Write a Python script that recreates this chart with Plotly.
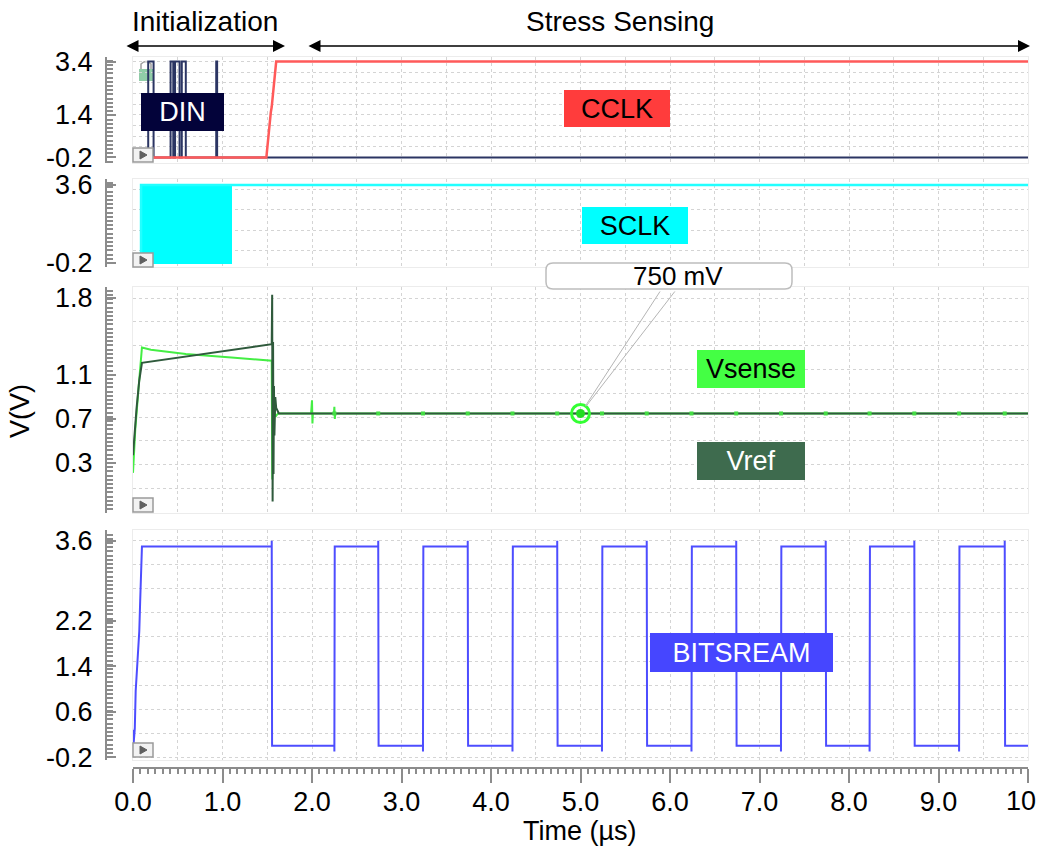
import plotly.graph_objects as go

W, H = 1041, 850
FONT = "Liberation Sans, Arial, sans-serif"


def fx(p):
    return p / W


def fy(p):
    return 1 - p / H


# ---------------- signal data (time in µs, level in V) ----------------
# DIN programming pulses during initialization
din_pulse_start = [0.17, 0.42, 0.47, 0.545, 0.93]
din_pulse_end = [0.23, 0.45, 0.52, 0.59, 0.94]
din_low, din_high = -0.2, 3.4

# CCLK enable edge
cclk_t = [0.0, 1.49, 1.54, 1.55, 1.60, 10.0]
cclk_v = [-0.2, -0.2, 1.5, 1.7, 3.4, 3.4]

# SCLK: fast burst during initialization, then held high
sclk_t = [0.0, 0.09, 0.09, 1.095, 10.0]
sclk_v = [-0.2, -0.2, 3.6, 3.6, 3.6]
sclk_burst_start, sclk_burst_end = 0.09, 1.095
sclk_low, sclk_high = -0.2, 3.6

# Vsense / Vref
vsense_t = [0.0, 0.01, 0.025, 0.06, 0.10, 0.20, 0.59, 1.10, 1.40, 1.55,
            1.556, 1.562, 1.568, 1.575, 1.59, 1.62, 1.99, 2.0, 2.005, 2.01,
            2.245, 2.25, 2.255, 2.26, 10.0]
vsense_v = [0.21, 0.36, 0.60, 0.96, 1.35, 1.33, 1.29, 1.26, 1.24, 1.23,
            0.15, 1.00, 0.55, 0.85, 0.72, 0.75, 0.75, 0.87, 0.66, 0.75,
            0.75, 0.81, 0.70, 0.75, 0.75]
vref_t = [0.0, 0.02, 0.04, 0.07, 0.10, 1.55, 1.555, 1.56, 1.565, 1.57,
          1.575, 1.58, 1.59, 1.60, 1.63, 10.0]
vref_v = [0.37, 0.60, 0.80, 1.05, 1.21, 1.38, 1.83, -0.05, 1.40, 0.20,
          1.00, 0.55, 0.90, 0.80, 0.75, 0.75]
# comparator kick-back points on Vsense at each bitstream edge
vsense_kick_t = [2.25, 2.74, 3.24, 3.74, 4.24, 4.74, 5.24, 5.74, 6.24, 6.74,
                 7.24, 7.74, 8.23, 8.73, 9.23, 9.74]
vsense_kick_v = [0.75] * len(vsense_kick_t)
marker_t, marker_v = 5.0, 0.75

# BITSTREAM
bit_ramp_t = [0.0, 0.003, 0.006, 0.02, 0.03, 0.05, 0.07, 0.08, 0.09, 0.10]
bit_ramp_v = [0.0, 0.28, 0.02, 0.30, 0.96, 1.48, 2.01, 2.53, 3.03, 3.50]
bit_fall = [1.55, 2.74, 3.74, 4.74, 5.74, 6.74, 7.74, 8.73, 9.74]
bit_rise = [2.25, 3.24, 4.24, 5.24, 6.24, 7.24, 8.23, 9.23]
bit_high, bit_low = 3.50, 0.0
bit_overshoot = 0.1
t_end = 10.0

# time-axis labels (the last one is set slightly inside the right edge)
time_ticks = [0, 1, 2, 3, 4, 5, 6, 7, 8, 9, 10]
time_labels = ["0.0", "1.0", "2.0", "3.0", "4.0", "5.0", "6.0", "7.0", "8.0", "9.0", ""]
last_time_label = "10"

# ---------------- build step waveforms ----------------
din_x, din_y = [0.0], [din_low]
for s, e in zip(din_pulse_start, din_pulse_end):
    din_x += [s, s, e, e]
    din_y += [din_low, din_high, din_high, din_low]
din_x.append(t_end)
din_y.append(din_low)

bit_x, bit_y = list(bit_ramp_t), list(bit_ramp_v)
edges = sorted([(t, "fall") for t in bit_fall] + [(t, "rise") for t in bit_rise])
for t, kind in edges:
    if kind == "fall":
        bit_x += [t, t, t + 0.004]
        bit_y += [bit_high, bit_high + bit_overshoot, bit_low]
    else:
        bit_x += [t, t, t + 0.004]
        bit_y += [bit_low, bit_low - bit_overshoot, bit_high]
bit_x.append(t_end)
bit_y.append(bit_low)

fig = go.Figure()

# panel 1: DIN / CCLK
fig.add_trace(go.Scatter(x=din_x, y=din_y, mode="lines", name="DIN",
                         line=dict(color="#2b3563", width=2), xaxis="x", yaxis="y"))
fig.add_trace(go.Scatter(x=cclk_t, y=cclk_v, mode="lines", name="CCLK",
                         line=dict(color="#ff5a5a", width=2.5), xaxis="x", yaxis="y"))

# panel 2: SCLK
fig.add_trace(go.Scatter(
    x=[sclk_burst_start, sclk_burst_start, sclk_burst_end, sclk_burst_end, sclk_burst_start],
    y=[sclk_low, sclk_high, sclk_high, sclk_low, sclk_low],
    mode="lines", fill="toself", fillcolor="#00ffff",
    line=dict(color="#00ffff", width=2), name="SCLK burst", xaxis="x2", yaxis="y2"))
fig.add_trace(go.Scatter(x=sclk_t, y=sclk_v, mode="lines", name="SCLK",
                         line=dict(color="#22ffff", width=2.5), xaxis="x2", yaxis="y2"))

# panel 3: Vsense / Vref
fig.add_trace(go.Scatter(x=vsense_t, y=vsense_v, mode="lines", name="Vsense",
                         line=dict(color="#44ee44", width=2), xaxis="x3", yaxis="y3"))
fig.add_trace(go.Scatter(x=vref_t, y=vref_v, mode="lines", name="Vref",
                         line=dict(color="#2f5a3c", width=2), xaxis="x3", yaxis="y3"))
fig.add_trace(go.Scatter(x=vsense_kick_t, y=vsense_kick_v, mode="markers", name="Vsense kick",
                         marker=dict(color="#44dd44", size=4, symbol="square"),
                         xaxis="x3", yaxis="y3"))
fig.add_trace(go.Scatter(x=[marker_t], y=[marker_v], mode="markers", name="cursor",
                         marker=dict(color="rgba(0,0,0,0)", size=18,
                                     line=dict(color="#33ff33", width=3)),
                         xaxis="x3", yaxis="y3"))
fig.add_trace(go.Scatter(x=[marker_t], y=[marker_v], mode="markers", name="cursor dot",
                         marker=dict(color="#22dd22", size=9), xaxis="x3", yaxis="y3"))

# panel 4: bitstream
fig.add_trace(go.Scatter(x=bit_x, y=bit_y, mode="lines", name="BITSTREAM",
                         line=dict(color="#4d4dff", width=2), xaxis="x4", yaxis="y4"))

# ---------------- axes ----------------
x_dom = [fx(133), fx(1028)]
panels = [  # (top px, bottom px, range, grid tick0, grid step)
    (57, 163, [-0.41, 3.57], -0.2, 0.4),
    (179, 267, [-0.40, 3.89], 0.4, 1.0),
    (287, 513, [-0.155, 1.90], 1.8, 0.2167),
    (530, 760, [-0.25, 3.79], -0.2, 3.8 / 9),
]
ruler_ticks = [
    [-0.2, 1.4, 3.4],
    [-0.2, 3.6],
    [0.3, 0.7, 1.1, 1.8],
    [-0.2, 0.6, 1.4, 2.2, 3.6],
]
GRID = "#d4d4d4"
RULER = "#8c8c8c"

layout = dict(
    width=W, height=H, autosize=False,
    margin=dict(l=0, r=0, t=0, b=0, pad=0, autoexpand=False),
    paper_bgcolor="white", plot_bgcolor="white",
    showlegend=False,
    font=dict(family=FONT, size=27, color="black"),
)

for i, (top, bot, rng, g0, gd) in enumerate(panels, start=1):
    sfx = "" if i == 1 else str(i)
    layout["xaxis" + sfx] = dict(
        domain=x_dom, range=[0, 10], anchor="y" + sfx,
        showticklabels=False, ticks="", zeroline=False,
        showgrid=True, gridcolor=GRID, griddash="dot", gridwidth=1,
        tickmode="linear", tick0=0, dtick=0.5,
        showline=True, mirror=True, linecolor="#ececec", linewidth=1,
    )
    layout["yaxis" + sfx] = dict(
        domain=[fy(bot), fy(top)], range=rng, anchor="x" + sfx,
        showticklabels=False, ticks="", zeroline=False,
        showgrid=True, gridcolor=GRID, griddash="dot", gridwidth=1,
        tickmode="linear", tick0=g0, dtick=gd,
        showline=True, mirror=True, linecolor="#ececec", linewidth=1,
    )
    # grey tick ruler standing left of each panel
    px_per_v = (bot - top) / (rng[1] - rng[0])
    layout["yaxis" + str(i + 4)] = dict(
        overlaying="y" + sfx, anchor="free", position=fx(106), side="left",
        range=rng, showgrid=False, zeroline=False,
        tickmode="array", tickvals=ruler_ticks[i - 1],
        ticktext=[f"{v:.1f}" for v in ruler_ticks[i - 1]],
        ticks="inside", ticklen=9, tickwidth=2, tickcolor=RULER,
        ticklabelstandoff=7,
        showline=True, linecolor=RULER, linewidth=2,
        minor=dict(ticks="inside", ticklen=6, tickwidth=2, tickcolor=RULER,
                   tick0=ruler_ticks[i - 1][0], dtick=4.2 / px_per_v, showgrid=False),
        tickfont=dict(size=27, color="black"),
    )
    # an empty trace so the ruler axis is rendered
    fig.add_trace(go.Scatter(x=[None], y=[None], mode="lines", showlegend=False,
                             hoverinfo="skip", xaxis="x" + sfx, yaxis="y" + str(i + 4)))

# bottom time ruler
layout["xaxis5"] = dict(
    overlaying="x4", anchor="free", position=fy(768), side="bottom",
    range=[0, 10], showgrid=False, zeroline=False,
    tickmode="array", tickvals=time_ticks, ticktext=time_labels,
    ticks="outside", ticklen=14, tickwidth=2, tickcolor=RULER,
    ticklabelstandoff=-4, ticklabeloverflow="allow",
    showline=True, linecolor=RULER, linewidth=2,
    minor=dict(ticks="outside", ticklen=5, tickwidth=2, tickcolor=RULER,
               tickmode="linear", tick0=0, dtick=1 / 12, showgrid=False),
    tickfont=dict(size=27, color="black"),
)
fig.add_trace(go.Scatter(x=[None], y=[None], mode="lines", showlegend=False,
                         hoverinfo="skip", xaxis="x5", yaxis="y4"))

fig.update_layout(**layout)

# ---------------- decorations ----------------
shapes = []
# small play-button icons at the lower-left of each panel
for bot in [162, 267, 512, 757]:
    shapes.append(dict(type="rect", xref="paper", yref="paper",
                       x0=fx(133), x1=fx(153), y0=fy(bot), y1=fy(bot - 14),
                       line=dict(color="#9a9a9a", width=1.5), fillcolor="#f2f2f2", layer="above"))
    shapes.append(dict(type="path", xref="paper", yref="paper",
                       path=f"M {fx(140)},{fy(bot - 11)} L {fx(140)},{fy(bot - 3)} L {fx(147)},{fy(bot - 7)} Z",
                       line=dict(color="#606060", width=1), fillcolor="#606060", layer="above"))
# padlock icon in the first panel
shapes.append(dict(type="rect", xref="paper", yref="paper",
                   x0=fx(139), x1=fx(153), y0=fy(81), y1=fy(69),
                   line=dict(width=0), fillcolor="rgba(70,170,110,0.6)", layer="below"))
shapes.append(dict(type="path", xref="paper", yref="paper",
                   path=f"M {fx(141)},{fy(69)} L {fx(141)},{fy(64)} Q {fx(146)},{fy(59)} {fx(151)},{fy(64)} L {fx(151)},{fy(69)}",
                   line=dict(color="#a0a0a0", width=1.5), layer="below"))

# rounded call-out box for the cursor readout
bx0, bx1, by0, by1, r = 546, 792, 263, 289, 7
rx, ry = r / W, r / H
X0, X1, Y0, Y1 = fx(bx0), fx(bx1), fy(by1), fy(by0)
shapes.append(dict(
    type="path", xref="paper", yref="paper", layer="above",
    path=(f"M {X0 + rx},{Y1} L {X1 - rx},{Y1} Q {X1},{Y1} {X1},{Y1 - ry} "
          f"L {X1},{Y0 + ry} Q {X1},{Y0} {X1 - rx},{Y0} "
          f"L {X0 + rx},{Y0} Q {X0},{Y0} {X0},{Y0 + ry} "
          f"L {X0},{Y1 - ry} Q {X0},{Y1} {X0 + rx},{Y1} Z"),
    line=dict(color="#bdbdbd", width=1.5), fillcolor="white"))
fig.update_layout(shapes=shapes)

annotations = []


def text_at(text, cx, cy, size=27, angle=0):
    annotations.append(dict(
        xref="paper", yref="paper", x=fx(cx), y=fy(cy), text=text, showarrow=False,
        xanchor="center", yanchor="middle", textangle=angle,
        font=dict(size=size, color="black", family=FONT)))


def label_box(text, cx, cy, w, h, bg, fg):
    annotations.append(dict(
        xref="paper", yref="paper", x=fx(cx), y=fy(cy), text=text, showarrow=False,
        xanchor="center", yanchor="middle", width=w, height=h, align="center", valign="middle",
        bgcolor=bg, borderpad=0, borderwidth=0, font=dict(size=27, color=fg, family=FONT)))


label_box("DIN", 182, 112.5, 83, 38, "#03033a", "white")
label_box("CCLK", 617, 108.5, 106, 37, "#ff3c3c", "black")
label_box("SCLK", 635, 225.5, 106, 37, "#00ffff", "black")
label_box("Vsense", 751, 368.5, 108, 38, "#44ff44", "black")
label_box("Vref", 751, 461, 108, 38, "#3e6b4e", "white")
label_box("BITSREAM", 741.5, 652.5, 183, 39, "#4646ff", "white")

# cursor readout text and its two leader lines
text_at(f"{marker_v * 1000:.0f} mV", 678, 276, size=26)
for tail_x in (660, 675):
    annotations.append(dict(xref="x3", yref="y3", x=marker_t, y=marker_v, text="",
                            showarrow=True, arrowhead=0, arrowwidth=1, arrowcolor="#b5b5b5",
                            axref="pixel", ayref="pixel",
                            ax=tail_x - 579.5, ay=289 - 412.5, standoff=9))

# phase headers with double arrows
text_at("Initialization", 205, 22, size=28)
text_at("Stress Sensing", 620, 22, size=28)
for x_start, x_end in ((125, 285), (307, 1030)):
    annotations.append(dict(xref="paper", yref="paper", x=fx(x_end), y=fy(46), text="",
                            showarrow=True, arrowhead=2, arrowside="end+start",
                            arrowsize=1.5, arrowwidth=1.6, arrowcolor="black",
                            axref="pixel", ayref="pixel", ax=x_start - x_end, ay=0,
                            standoff=0, startstandoff=0))

# last time label, pulled in from the figure edge
text_at(last_time_label, 1021, 801)

# axis titles
text_at("Time (µs)", 580, 831)
text_at("V(V)", 20, 411, angle=-90)

fig.update_layout(annotations=annotations)

fig.write_html("out.html")
